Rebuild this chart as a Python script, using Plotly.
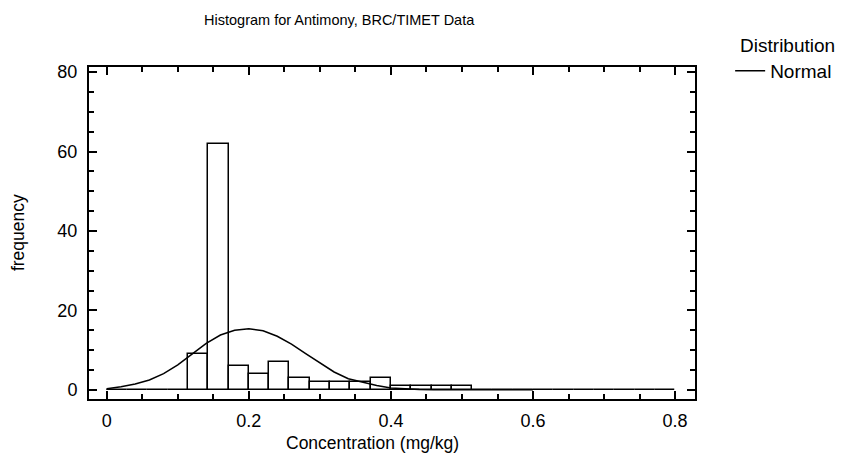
import numpy as np
import plotly.graph_objects as go

# histogram of antimony concentrations, 28 bins over 0..0.8 mg/kg
bin_start = 0.0
bin_end = 0.8
counts = [0, 0, 0, 0, 9, 62, 6, 4, 7, 3, 2, 2, 2, 3,
          1, 1, 1, 1, 0, 0, 0, 0, 0, 0, 0, 0, 0, 0]

# fitted normal curve
curve_x = [0.0, 0.02, 0.04, 0.06, 0.08, 0.10, 0.12, 0.14, 0.16, 0.18,
           0.20, 0.22, 0.24, 0.26, 0.28, 0.30, 0.32, 0.34, 0.36, 0.38,
           0.40, 0.42, 0.44, 0.46, 0.48, 0.50, 0.55, 0.60]
curve_y = [0.3, 0.8, 1.5, 2.5, 4.1, 6.3, 9.0, 11.7, 13.8, 15.0,
           15.4, 14.9, 13.5, 11.5, 9.1, 6.8, 4.5, 2.8, 1.9, 1.1,
           0.5, 0.25, 0.12, 0.05, 0.02, 0.0, 0.0, 0.0]

x_ticks = [0, 0.2, 0.4, 0.6, 0.8]
y_ticks = [0, 20, 40, 60, 80]

edges = np.linspace(bin_start, bin_end, len(counts) + 1)
centers = (edges[:-1] + edges[1:]) / 2
width = edges[1] - edges[0]

FONT = "Liberation Sans, Arial, sans-serif"

fig = go.Figure()
fig.add_trace(go.Bar(
    x=centers, y=counts, width=width,
    marker=dict(color="white", line=dict(color="black", width=1.5)),
    showlegend=False, hoverinfo="x+y",
))
fig.add_trace(go.Scatter(
    x=curve_x, y=curve_y, mode="lines", name="Normal",
    line=dict(color="black", width=1.5),
))

axis_common = dict(
    showline=True, linecolor="black", linewidth=2, mirror="allticks",
    ticks="inside", ticklen=8, tickwidth=2, tickcolor="black",
    showgrid=False, zeroline=False, automargin=False,
    tickfont=dict(size=18, color="black"),
)

# page body has an 8px default margin, so shift everything up/left by 8
fig.update_layout(
    width=847, height=468,
    margin=dict(l=81, r=160, t=59, b=77),
    paper_bgcolor="white", plot_bgcolor="white",
    font=dict(family=FONT, color="black"),
    bargap=0,
    title=dict(text="Histogram for Antimony, BRC/TIMET Data",
               x=0.391, xanchor="center", y=0.975, yanchor="middle",
               font=dict(size=14.5)),
    xaxis=dict(range=[-0.025, 0.828], tickvals=x_ticks, ticklabelstandoff=4,
               minor=dict(dtick=0.05, ticks="inside", ticklen=5, tickwidth=1.5, tickcolor="black"),
               **axis_common),
    yaxis=dict(range=[-2.3, 81.3], tickvals=y_ticks, ticklabelstandoff=6,
               minor=dict(dtick=5, ticks="inside", ticklen=5, tickwidth=1.5, tickcolor="black"),
               **axis_common),
    legend=dict(x=1.058, y=1.12, xanchor="left", yanchor="top",
                title=dict(text="Distribution", side="top right", font=dict(size=19)),
                font=dict(size=19), itemwidth=30, bgcolor="rgba(0,0,0,0)"),
    annotations=[
        dict(text="Concentration (mg/kg)", xref="paper", yref="paper",
             x=0.468, y=-0.1325, xanchor="center", yanchor="middle",
             showarrow=False, font=dict(size=17.5)),
        dict(text="frequency", xref="paper", yref="paper",
             x=-0.117, y=0.5, xanchor="center", yanchor="middle", textangle=-90,
             showarrow=False, font=dict(size=17.5)),
    ],
)

fig.write_html("out.html")
